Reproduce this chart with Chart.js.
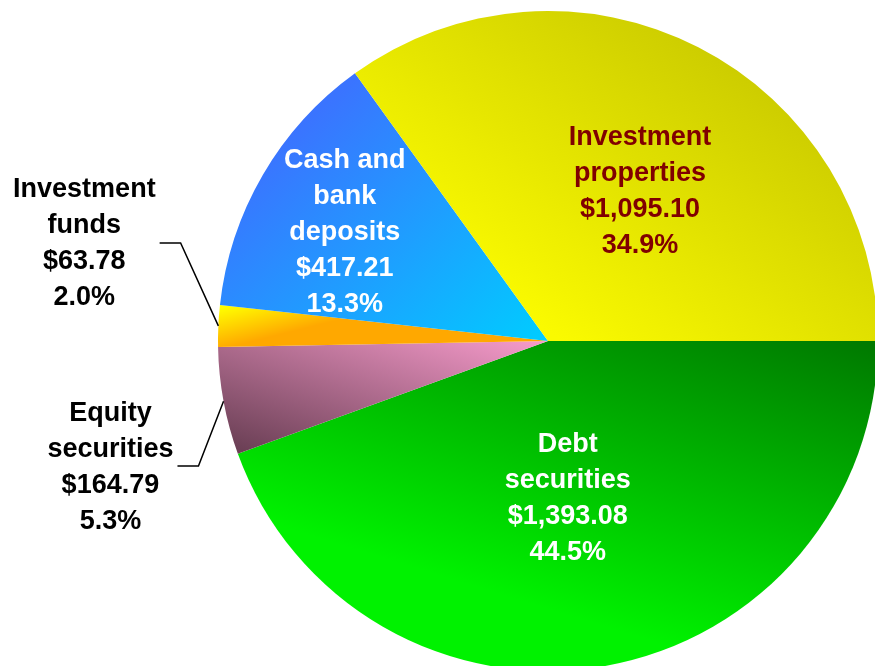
<!DOCTYPE html>
<html>
<head>
<meta charset="utf-8">
<title>Investment portfolio</title>
<script src="https://cdn.jsdelivr.net/npm/chart.js@4.4.1/dist/chart.umd.min.js"></script>
<style>
  html, body { margin: 0; padding: 0; background: #fff; overflow: hidden; }
  #wrap { position: absolute; left: 0; top: 0; width: 900px; height: 700px; }
</style>
</head>
<body>
<div id="wrap"><canvas id="portfolioPie"></canvas></div>
<script>
// slices, clockwise from 3 o'clock
const categories = ['Debt securities', 'Equity securities', 'Investment funds', 'Cash and bank deposits', 'Investment properties'];
const nameLines = [['Debt', 'securities'], ['Equity', 'securities'], ['Investment', 'funds'], ['Cash and', 'bank', 'deposits'], ['Investment', 'properties']];
const amounts = [1393.08, 164.79, 63.78, 417.21, 1095.10];

// label anchors relative to the pie centre, in units of the radius
const labelAnchors = [[0.06, 0.476], [-1.326, 0.382], [-1.405, -0.294], [-0.616, -0.328], [0.279, -0.452]];
const labelColors = ['#ffffff', '#000000', '#000000', '#ffffff', '#800000'];
const outsideLabel = [false, true, true, false, false];

// gradient per slice: [x0, y0, x1, y1] relative to centre (radius units), start colour, end colour
const fills = [
  [[0.976, 0.012, 0.665, 1.018], '#007a00', '#00f200'],
  [[0.0, 0.0, -0.2, 0.58], '#f89ccc', '#6c4056'],
  [[-1.0, -0.1, -0.97, 0.02], '#ffff00', '#ffa800'],
  [[-0.66, -0.73, -0.02, 0.0], '#3a74ff', '#00ccff'],
  [[0.0, -0.03, 0.58, -0.85], '#fafa00', '#cccc00']
];

const total = amounts.reduce((a, b) => a + b, 0);
const money = v => '$' + v.toLocaleString('en-US', { minimumFractionDigits: 2, maximumFractionDigits: 2 });
const pct = v => (v / total * 100).toFixed(1) + '%';

// gradients are laid out on the pie's own box, taken from the chart area
function sliceFill(ctx) {
  const chart = ctx.chart;
  const f = fills[ctx.dataIndex];
  const area = chart.chartArea;
  if (!area) return f[2];
  const cx = (area.left + area.right) / 2;
  const cy = (area.top + area.bottom) / 2;
  const r = Math.min(area.right - area.left, area.bottom - area.top) / 2;
  const g = chart.ctx.createLinearGradient(cx + f[0][0] * r, cy + f[0][1] * r, cx + f[0][2] * r, cy + f[0][3] * r);
  g.addColorStop(0, f[1]);
  g.addColorStop(1, f[2]);
  return g;
}

const sliceLabels = {
  id: 'sliceLabels',
  afterDatasetsDraw(chart) {
    const ctx = chart.ctx;
    const meta = chart.getDatasetMeta(0);
    const lineH = 36;
    ctx.save();
    ctx.font = 'bold 27px "Liberation Sans", Arial, sans-serif';
    ctx.textAlign = 'center';
    ctx.textBaseline = 'middle';
    meta.data.forEach((arc, i) => {
      const { x, y, outerRadius, startAngle, endAngle } = arc.getProps(['x', 'y', 'outerRadius', 'startAngle', 'endAngle'], true);
      const lx = x + labelAnchors[i][0] * outerRadius;
      const ly = y + labelAnchors[i][1] * outerRadius;
      const lines = nameLines[i].concat([money(amounts[i]), pct(amounts[i])]);
      ctx.fillStyle = labelColors[i];
      lines.forEach((t, k) => {
        ctx.fillText(t, lx, ly + (k - (lines.length - 1) / 2) * lineH);
      });
      if (outsideLabel[i]) {
        const w = Math.max(...lines.map(t => ctx.measureText(t).width));
        const mid = (startAngle + endAngle) / 2;
        const sx = lx + w / 2 + 4;
        const sy = ly - 1;
        ctx.strokeStyle = '#000';
        ctx.lineWidth = 1.5;
        ctx.beginPath();
        ctx.moveTo(sx, sy);
        ctx.lineTo(sx + 21, sy);
        ctx.lineTo(x + Math.cos(mid) * outerRadius, y + Math.sin(mid) * outerRadius);
        ctx.stroke();
      }
    });
    ctx.restore();
  }
};

new Chart(document.getElementById('portfolioPie'), {
  type: 'pie',
  data: {
    labels: categories,
    datasets: [{
      data: amounts,
      backgroundColor: sliceFill,
      borderWidth: 0
    }]
  },
  options: {
    responsive: true,
    maintainAspectRatio: false,
    animation: false,
    rotation: 90,
    layout: { padding: { left: 218, top: 11, right: 22, bottom: 29 } },
    plugins: {
      legend: { display: false },
      tooltip: { enabled: false }
    }
  },
  plugins: [sliceLabels]
});
</script>
</body>
</html>
